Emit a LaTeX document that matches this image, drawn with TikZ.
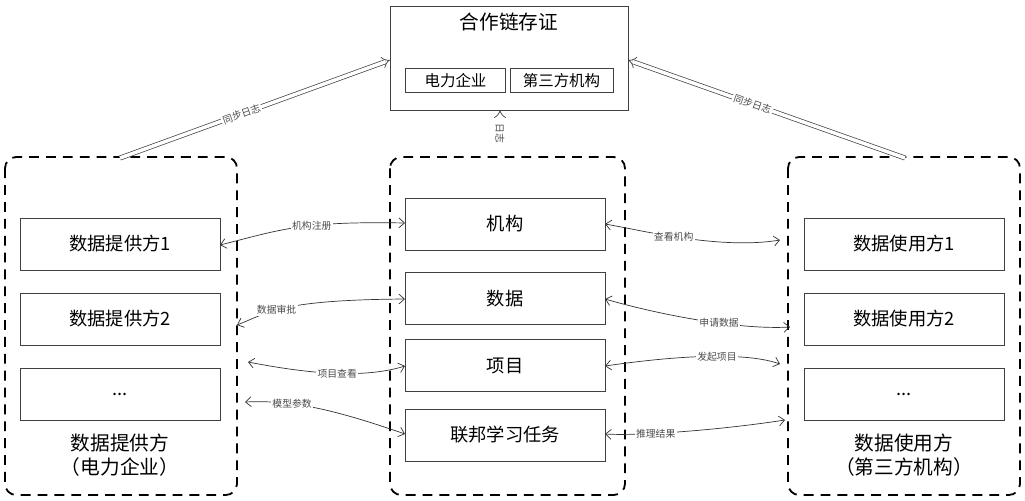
\documentclass[tikz,border=0pt]{standalone}
\usepackage{fontspec}
\setmainfont{Noto Sans CJK SC}
\usetikzlibrary{arrows.meta}
\begin{document}
\begin{tikzpicture}[x=0.025cm,y=-0.025cm,
  box/.style={draw=black!75,line width=0.6pt,minimum width=5cm,minimum height=1.3cm,font=\fontsize{13}{15}\selectfont},
  ibox/.style={draw=black!75,line width=0.5pt,minimum height=0.6cm,font=\fontsize{11}{13}\selectfont,inner sep=2pt},
  grp/.style={draw,dash pattern=on 7pt off 5pt,line width=1.3pt,rounded corners=8pt},
  con/.style={black!80,line width=0.5pt,{Straight Barb[length=4pt,width=7pt]}-{Straight Barb[length=4pt,width=7pt]}},
  lbl/.style={fill=white,inner sep=1pt,font=\fontsize{7}{8}\selectfont,text=black!70},
  dbl/.style={double=white,draw=black!75,double distance=2.5pt,line width=0.5pt,-{Implies}},
  big/.style={font=\fontsize{14}{17}\selectfont,align=center}]
\useasboundingbox (0,0) rectangle (1025,500);
% top
\node[draw=black!75,line width=0.6pt,minimum width=5.95cm,minimum height=2.6cm] (top) at (509,58) {};
\node[font=\fontsize{14}{16}\selectfont] (toptitle) at (509,22) {合作链存证};
\node[ibox,minimum width=2.5cm] (ie) at (455.5,80.5) {电力企业};
\node[ibox,minimum width=2.575cm] (it) at (561.5,80.5) {第三方机构};
% groups
\draw[grp] (5,157) rectangle (237,495);
\draw[grp] (390,157) rectangle (625,495);
\draw[grp] (788,157) rectangle (1020,495);
% left
\node[box] (p1) at (120,244) {数据提供方1};
\node[box] (p2) at (120,319) {数据提供方2};
\node[box] (p3) at (120,394) {...};
\node[big] (pl) at (120,455) {数据提供方\\（电力企业）};
% right
\node[box] (u1) at (904,244) {数据使用方1};
\node[box] (u2) at (904,319) {数据使用方2};
\node[box] (u3) at (904,394) {...};
\node[big] (ul) at (904,455) {数据使用方\\（第三方机构）};
% center
\node[box] (c1) at (505,224) {机构};
\node[box] (c2) at (505,298.5) {数据};
\node[box] (c3) at (505,365.5) {项目};
\node[box] (c4) at (505,435) {联邦学习任务};
% double arrows
\coordinate (sl) at (120,158);
\coordinate (sr) at (905,158);
\coordinate (sc) at (500,157);
\coordinate (tl) at (390,60);
\coordinate (tr) at (628,60);
\coordinate (tc) at (500,110);
\draw[dbl] (sl) -- node[lbl,sloped,pos=0.45]{同步日志} (tl);
\draw[dbl] (sr) -- node[lbl,sloped,pos=0.55]{同步日志} (tr);
\draw[dbl] (sc) -- node[lbl,rotate=-90,inner sep=0.5pt]{日志} (tc);
% left connectors
\coordinate (a1) at (220,245); \coordinate (b1) at (405,223);
\coordinate (a2) at (237,325); \coordinate (b2) at (405,299);
\coordinate (a3) at (248,362); \coordinate (b3) at (405,366);
\coordinate (a4) at (245,402); \coordinate (b4) at (405,434);
\draw[con] (a1) .. controls (280,230) and (300,221) .. node[lbl,pos=0.6]{机构注册} (b1);
\draw[con] (a2) .. controls (270,312) and (280,300) .. node[lbl,pos=0.42]{数据审批} (b2);
\draw[con] (a3) .. controls (300,372) and (360,380) .. node[lbl,pos=0.55]{项目查看} (b3);
\draw[con] (a4) .. controls (290,400) and (330,408) .. node[lbl,pos=0.35]{模型参数} (b4);
% right connectors
\coordinate (d1) at (780,240); \coordinate (e1) at (605,224);
\coordinate (d2) at (790,327); \coordinate (e2) at (605,299);
\coordinate (d3) at (780,364); \coordinate (e3) at (605,366);
\coordinate (d4) at (785,420); \coordinate (e4) at (605,434);
\draw[con] (e1) .. controls (640,230) and (720,250) .. node[lbl,pos=0.45]{查看机构} (d1);
\draw[con] (e2) .. controls (660,315) and (740,330) .. node[lbl,pos=0.6]{申请数据} (d2);
\draw[con] (e3) .. controls (660,358) and (740,350) .. node[lbl,pos=0.6]{发起项目} (d3);
\draw[con] (e4) .. controls (640,436) and (720,430) .. node[lbl,pos=0.35]{推理结果} (d4);
\end{tikzpicture}
\end{document}
